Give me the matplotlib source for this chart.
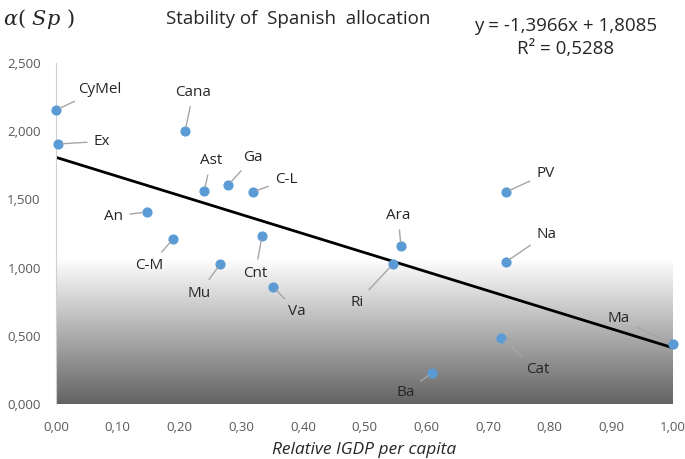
import numpy as np
import matplotlib.pyplot as plt
from matplotlib.colors import LinearSegmentedColormap

plt.rcParams['font.family'] = ['Open Sans', 'DejaVu Sans']
plt.rcParams['mathtext.fontset'] = 'dejavuserif'

# Regions: relative IGDP per capita vs alpha(Sp)
regions = ['CyMel', 'Ex', 'Cana', 'Ast', 'Ga', 'C-L', 'An', 'C-M', 'Mu', 'Cnt',
           'Va', 'Ara', 'Ri', 'PV', 'Na', 'Cat', 'Ba', 'Ma']
igdp = [0.000, 0.003, 0.209, 0.240, 0.279, 0.319, 0.147, 0.190, 0.266, 0.334,
        0.352, 0.559, 0.546, 0.729, 0.729, 0.721, 0.609, 1.000]
alpha = [2.155, 1.906, 2.000, 1.560, 1.605, 1.554, 1.408, 1.210, 1.026, 1.232,
         0.858, 1.158, 1.026, 1.554, 1.041, 0.484, 0.227, 0.440]

# Label offsets in points and alignment, per region
label_pos = {
    'CyMel': ((16, 15), 'left'), 'Ex': ((26, 2), 'left'), 'Cana': ((6, 28), 'center'),
    'Ast': ((5, 22), 'center'), 'Ga': ((11, 20), 'left'), 'C-L': ((16, 9), 'left'),
    'An': ((-17, -3), 'right'), 'C-M': ((-17, -19), 'center'), 'Mu': ((-15, -21), 'center'),
    'Cnt': ((-5, -27), 'center'), 'Va': ((11, -18), 'left'), 'Ara': ((-2, 22), 'center'),
    'Ri': ((-26, -28), 'center'), 'PV': ((22, 13), 'left'), 'Na': ((22, 20), 'left'),
    'Cat': ((18, -23), 'left'), 'Ba': ((-19, -14), 'center'), 'Ma': ((-39, 18), 'center'),
}

slope, intercept = -1.3966, 1.8085
x_ticks = np.arange(0, 1.01, 0.1)
y_ticks = np.arange(0, 2.51, 0.5)

fig = plt.figure(figsize=(6.85, 4.59), dpi=100)
ax = fig.add_axes([0.0818, 0.1198, 0.9007, 0.7429])
ax.set_xlim(0, 1)
ax.set_ylim(0, 2.5)

# gradient background
cmap = LinearSegmentedColormap.from_list('g', ['#636363', '#ffffff'])
grad = np.linspace(0, 1, 256).reshape(-1, 1)
ax.imshow(grad, extent=[0, 1, 0, 1.07], origin='lower', cmap=cmap,
          aspect='auto', zorder=0, interpolation='bicubic')

# trend line
xs = np.array([0, 1])
ax.plot(xs, slope * xs + intercept, color='black', lw=2, zorder=2)

ax.scatter(igdp, alpha, s=40, color='#5b9bd5', zorder=3, clip_on=False)

for name, x, y in zip(regions, igdp, alpha):
    (dx, dy), ha = label_pos[name]
    ax.annotate(name, (x, y), xytext=(dx, dy), textcoords='offset points',
                ha=ha, va='center', fontsize=11, color='#262626',
                arrowprops=dict(arrowstyle='-', color='#a6a6a6', lw=1,
                                shrinkA=3, shrinkB=3), annotation_clip=False)

for s in ['top', 'right', 'bottom']:
    ax.spines[s].set_visible(False)
ax.spines['left'].set_color('#d0d0d0')
ax.set_xticks(x_ticks)
ax.set_xticklabels([f'{v:.2f}'.replace('.', ',') for v in x_ticks])
ax.set_yticks(y_ticks)
ax.set_yticklabels([f'{v:.3f}'.replace('.', ',') for v in y_ticks])
ax.tick_params(axis='x', length=0, labelsize=9.5, colors='#595959', pad=12)
ax.tick_params(axis='y', length=0, labelsize=9.5, colors='#595959', pad=11)
ax.set_xlabel('Relative IGDP per capita', fontsize=12.5, style='italic',
              color='#262626', labelpad=6)

fig.text(0.005, 0.958, r'$\alpha(\ Sp\ )$', fontsize=15, va='center',
         color='#262626')
fig.text(0.435, 0.958, 'Stability of  Spanish  allocation', fontsize=13.5,
         ha='center', va='center', color='#262626')
fig.text(0.825, 0.918, 'y = -1,3966x + 1,8085\nR² = 0,5288', fontsize=13.5,
         ha='center', va='center', color='#262626', linespacing=1.4)

fig.savefig('out.png', dpi=100)
